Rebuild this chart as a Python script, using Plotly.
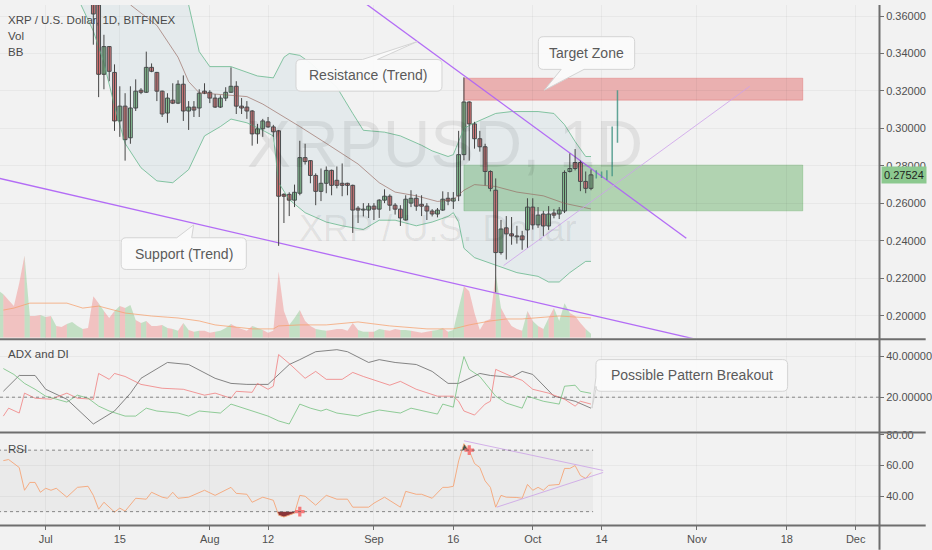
import numpy as np
import pandas as pd
import plotly.graph_objects as go

BASE = pd.Timestamp("2019-07-01")


def to_dt(d):
    return BASE + pd.Timedelta(days=float(d))


# ---------------- DATA (XRP/USD daily, Bitfinex; day index = days since 2019-07-01) ----------------
candle_days = list(range(9, 104))
opens = [0.3720, 0.3660, 0.3289, 0.3437, 0.3299, 0.3040, 0.3119, 0.2950, 0.3109, 0.3204,
         0.3193, 0.3326, 0.3299, 0.3199, 0.3082, 0.3151, 0.3135, 0.3236, 0.3093, 0.3114,
         0.3109, 0.3199, 0.3193, 0.3162, 0.3114, 0.3162, 0.3193, 0.3225, 0.3119, 0.3114,
         0.3093, 0.2971, 0.2998, 0.3035, 0.3008, 0.2987, 0.2648, 0.2648, 0.2617, 0.2654,
         0.2844, 0.2828, 0.2749, 0.2664, 0.2707, 0.2776, 0.2723, 0.2707, 0.2707, 0.2696,
         0.2574, 0.2564, 0.2564, 0.2585, 0.2569, 0.2617, 0.2638, 0.2590, 0.2569, 0.2511,
         0.2601, 0.2627, 0.2595, 0.2585, 0.2559, 0.2543, 0.2564, 0.2627, 0.2612, 0.2640,
         0.2860, 0.3141, 0.3024, 0.2945, 0.2902, 0.2770, 0.2670, 0.2337, 0.2469, 0.2437,
         0.2426, 0.2426, 0.2458, 0.2580, 0.2485, 0.2543, 0.2479, 0.2548, 0.2543, 0.2559,
         0.2770, 0.2818, 0.2818, 0.2717, 0.2680]
highs = [0.3780, 0.3700, 0.3500, 0.3440, 0.3342, 0.3225, 0.3188, 0.3225, 0.3262, 0.3215,
         0.3410, 0.3347, 0.3302, 0.3202, 0.3188, 0.3241, 0.3257, 0.3283, 0.3146, 0.3146,
         0.3209, 0.3241, 0.3204, 0.3183, 0.3177, 0.3220, 0.3326, 0.3252, 0.3162, 0.3146,
         0.3098, 0.3024, 0.3051, 0.3061, 0.3019, 0.2992, 0.2654, 0.2659, 0.2700, 0.2934,
         0.2918, 0.2830, 0.2760, 0.2786, 0.2797, 0.2780, 0.2797, 0.2813, 0.2710, 0.2700,
         0.2585, 0.2601, 0.2601, 0.2601, 0.2622, 0.2675, 0.2648, 0.2601, 0.2590, 0.2643,
         0.2670, 0.2648, 0.2643, 0.2601, 0.2569, 0.2575, 0.2664, 0.2660, 0.2660, 0.2987,
         0.3273, 0.3145, 0.3035, 0.2987, 0.2918, 0.2776, 0.2733, 0.2511, 0.2532, 0.2527,
         0.2480, 0.2453, 0.2627, 0.2627, 0.2580, 0.2560, 0.2585, 0.2570, 0.2580, 0.2776,
         0.2866, 0.2890, 0.2828, 0.2770, 0.2781]
lows = [0.3447, 0.3167, 0.3209, 0.3252, 0.2987, 0.2955, 0.2828, 0.2918, 0.3093, 0.3183,
        0.3190, 0.3300, 0.3146, 0.3061, 0.3030, 0.3130, 0.3130, 0.3040, 0.2992, 0.3061,
        0.3061, 0.3183, 0.3135, 0.3109, 0.3109, 0.3146, 0.3190, 0.3077, 0.3077, 0.3051,
        0.2908, 0.2918, 0.2955, 0.3003, 0.2955, 0.2373, 0.2495, 0.2532, 0.2580, 0.2643,
        0.2807, 0.2707, 0.2590, 0.2612, 0.2654, 0.2643, 0.2680, 0.2638, 0.2643, 0.2442,
        0.2495, 0.2530, 0.2522, 0.2511, 0.2522, 0.2601, 0.2560, 0.2540, 0.2479, 0.2508,
        0.2580, 0.2560, 0.2532, 0.2511, 0.2530, 0.2525, 0.2559, 0.2590, 0.2570, 0.2612,
        0.2830, 0.2828, 0.2892, 0.2876, 0.2696, 0.2664, 0.2125, 0.2326, 0.2300, 0.2379,
        0.2385, 0.2352, 0.2363, 0.2460, 0.2469, 0.2426, 0.2458, 0.2520, 0.2516, 0.2548,
        0.2765, 0.2776, 0.2665, 0.2654, 0.2670]
closes = [0.3611, 0.3289, 0.3437, 0.3305, 0.3040, 0.3119, 0.2940, 0.3109, 0.3199, 0.3193,
          0.3326, 0.3305, 0.3199, 0.3077, 0.3162, 0.3135, 0.3236, 0.3093, 0.3114, 0.3098,
          0.3188, 0.3188, 0.3162, 0.3114, 0.3162, 0.3193, 0.3225, 0.3119, 0.3109, 0.3093,
          0.2971, 0.2998, 0.3040, 0.3008, 0.2982, 0.2638, 0.2638, 0.2617, 0.2659, 0.2844,
          0.2823, 0.2749, 0.2664, 0.2707, 0.2776, 0.2696, 0.2696, 0.2696, 0.2696, 0.2564,
          0.2564, 0.2569, 0.2585, 0.2569, 0.2617, 0.2638, 0.2590, 0.2569, 0.2522, 0.2622,
          0.2627, 0.2585, 0.2585, 0.2559, 0.2543, 0.2564, 0.2622, 0.2612, 0.2627, 0.2860,
          0.3141, 0.3024, 0.2945, 0.2902, 0.2770, 0.2680, 0.2337, 0.2463, 0.2437, 0.2426,
          0.2421, 0.2405, 0.2580, 0.2485, 0.2537, 0.2479, 0.2543, 0.2537, 0.2564, 0.2765,
          0.2786, 0.2786, 0.2717, 0.2680, 0.2752]
last_price = 0.27524

# projected bars drawn after the last candle
proj_days = [104, 105, 106, 107, 108]
proj_low = [0.2733, 0.2735, 0.2725, 0.2745, 0.2924]
proj_high = [0.2776, 0.2770, 0.2776, 0.3010, 0.3204]

# volume (days -9 .. 103), relative units
vol_days = list(range(-9, 104))
volume = [48, 44, 38, 32, 55, 83, 22, 22, 23,
          21, 22, 12, 11, 14, 16, 12, 9, 10,
          42, 35, 27, 20, 27, 32, 30, 33, 18, 15, 17,
          12, 12, 13, 10, 9, 7, 15, 8, 6, 7,
          7, 5, 6, 7, 10, 14, 11, 9, 7, 12,
          10, 8, 5, 7, 67, 27, 13, 20, 28, 17,
          12, 9, 8, 7, 8, 9, 9, 7, 15, 8,
          6, 6, 6, 9, 8, 7, 9, 8, 8, 7,
          6, 5, 6, 7, 8, 10, 6, 8, 30, 52,
          47, 25, 8, 17, 19, 65, 30, 20, 12, 9,
          7, 27, 17, 12, 9, 20, 30, 17, 35, 25,
          22, 15, 9, 4]
pre_up = [1, 1, 0, 0, 0, 0, 1, 0, 0, 1, 0, 1, 0, 0, 1, 1, 1, 0]  # days -9..8 direction
vma_days = [-8, -6, -3, 4, 7, 10, 15, 20, 25, 29, 32, 35, 39, 43, 44, 48, 53, 59, 65, 72, 77, 80, 84, 87, 90, 97, 101, 103]
vma_vals = [28, 30, 35, 35, 30, 32, 25, 22, 20, 17, 13, 11, 9, 9, 12, 13, 13, 16, 12, 9, 9, 13, 17, 19, 19, 22, 21, 20]

# Bollinger Bands
bb_up_days = [3, 15, 21, 27, 29, 31, 35, 40, 43, 45, 46, 48, 50, 55, 58, 60, 64, 67, 71, 73, 76, 77, 79, 81, 85, 88, 93, 96, 98, 100, 102, 103]
bb_up_vals = [0.440, 0.410, 0.387, 0.366, 0.341, 0.333, 0.333, 0.328, 0.327, 0.338, 0.340, 0.339, 0.335, 0.322, 0.308,
              0.299, 0.298, 0.296, 0.291, 0.288, 0.285, 0.286, 0.300, 0.303, 0.308, 0.309, 0.309, 0.308, 0.302, 0.293, 0.285, 0.285]
bb_lo_days = [3, 6, 9, 11, 13, 15, 18, 21, 24, 27, 30, 33, 35, 38, 41, 43, 44, 46, 49, 53, 56, 60, 63, 66, 70, 73, 76, 77, 78, 79, 81, 85, 89, 93, 95, 97, 99, 102, 103]
bb_lo_vals = [0.392, 0.370, 0.352, 0.335, 0.312, 0.292, 0.279, 0.272, 0.271, 0.278, 0.296, 0.301, 0.305, 0.303, 0.299,
              0.296, 0.271, 0.262, 0.255, 0.250, 0.248, 0.246, 0.251, 0.251, 0.248, 0.250, 0.253, 0.255, 0.250, 0.236,
              0.231, 0.227, 0.223, 0.221, 0.218, 0.218, 0.223, 0.229, 0.229]
bb_mid_days = [8, 12, 16, 21, 25, 27, 29, 34, 38, 41, 44, 48, 53, 59, 63, 66, 70, 74, 77, 79, 81, 85, 89, 94, 98, 103]
bb_mid_vals = [0.395, 0.382, 0.366, 0.355, 0.338, 0.325, 0.319, 0.318, 0.317, 0.313, 0.308, 0.301, 0.292, 0.281, 0.271,
               0.266, 0.264, 0.261, 0.262, 0.267, 0.270, 0.269, 0.266, 0.264, 0.260, 0.257]

# ADX and DI
adx_days = [-8, -5, -2, 0, 4, 9, 13, 16, 18, 23, 27, 32, 35, 38, 42, 43, 46, 48, 51, 55, 57, 61, 63, 66, 70, 73, 76, 78, 80, 82, 84, 88, 90, 92, 96, 100, 103]
adx_vals = [22.9, 30.7, 30.7, 23.9, 19.0, 6.8, 13.2, 21.9, 29.3, 37.1, 36.1, 29.3, 26.8, 26.3, 26.3, 28.8, 36.1, 38.5, 42.4,
            43.4, 42.4, 37.1, 38.5, 37.1, 36.1, 32.7, 26.8, 26.8, 29.3, 31.7, 30.7, 29.8, 32.7, 31.2, 20.5, 18.0, 14.6]
mdi_days = [-8, -7, -5, -4, -2, 1, 4, 6, 9, 10, 12, 13, 15, 18, 22, 26, 30, 32, 35, 36, 39, 40, 42, 43, 44, 46, 49, 51, 53, 56,
            58, 60, 65, 67, 70, 74, 77, 78, 79, 81, 83, 84, 85, 88, 90, 92, 95, 98, 100, 101, 103]
mdi_vals = [10.7, 14.6, 12.2, 22.0, 19.5, 19.0, 22.0, 19.5, 19.0, 31.7, 28.8, 31.7, 30.2, 26.3, 24.4, 23.9, 21.0, 22.0, 19.5,
            22.9, 22.4, 26.8, 23.9, 25.4, 41.0, 36.6, 29.3, 32.7, 28.8, 28.8, 32.2, 30.2, 25.9, 27.8, 23.9, 20.5, 20.5, 18.0,
            13.2, 11.2, 16.6, 18.0, 33.7, 30.2, 28.3, 23.9, 22.0, 19.0, 15.6, 18.0, 16.6]
pdi_days = [-8, -6, -4, -3, -2, 0, 4, 6, 8, 10, 12, 15, 17, 19, 21, 25, 27, 29, 33, 35, 39, 42, 44, 46, 48, 50, 52, 53, 55, 59,
            60, 63, 67, 69, 74, 75, 77, 78, 79, 80, 82, 85, 87, 90, 91, 94, 97, 98, 100, 101, 103]
pdi_vals = [34.1, 31.2, 26.8, 25.4, 23.9, 20.5, 17.6, 21.0, 19.5, 15.6, 13.2, 10.7, 10.7, 14.6, 13.2, 12.2, 10.7, 13.2, 12.2,
            16.6, 13.2, 10.7, 8.3, 6.8, 16.6, 14.6, 13.2, 14.1, 12.2, 10.7, 11.7, 13.7, 12.2, 14.6, 11.7, 16.6, 15.1, 28.8,
            40.0, 33.7, 30.2, 20.5, 17.1, 14.6, 20.5, 18.0, 16.6, 25.4, 25.9, 22.9, 21.9]

# RSI
rsi_days = [-8, -7, -5, -4, -3, -2, -1, 0, 1, 2, 4, 6, 8, 9, 10, 11, 13, 14, 15, 17, 19, 20, 22, 23, 24, 25, 27, 30, 32, 35,
            36, 38, 39, 41, 43, 44, 45, 47, 48, 49, 51, 53, 55, 57, 58, 61, 62, 64, 67, 68, 70, 71, 73, 75, 76, 77, 78, 79,
            80, 81, 82, 83, 84, 85, 86, 87, 89, 90, 91, 92, 93, 94, 95, 97, 98, 99, 100, 101, 102, 103]
rsi_vals = [63.2, 63.9, 58.7, 43.9, 49.0, 49.0, 42.6, 45.2, 43.9, 45.2, 39.4, 45.8, 46.5, 40.6, 31.6, 36.1, 29.7, 32.3, 30.3,
            38.7, 38.1, 42.6, 39.4, 38.7, 42.6, 38.7, 39.4, 43.9, 40.6, 45.8, 41.9, 41.3, 36.1, 39.4, 37.4, 27.7, 26.5, 29.0,
            40.6, 40.0, 34.2, 40.6, 38.1, 38.1, 32.9, 32.9, 35.5, 39.4, 32.9, 43.2, 41.3, 41.3, 38.7, 45.8, 45.8, 46.5, 63.0,
            74.2, 69.7, 61.3, 58.7, 50.0, 45.8, 32.9, 40.6, 39.4, 39.2, 38.7, 47.7, 43.9, 45.8, 43.9, 47.1, 47.7, 58.1, 58.1,
            60.0, 53.5, 51.6, 55.5]
rsi_mark_days = [48, 80]
rsi_mark_vals = [30.0, 70.0]

# drawings (trend lines / zones), in day index and price
res_line_days, res_line_vals = [55, 121], [0.3779, 0.2413]
sup_line_days, sup_line_vals = [-9, 123], [0.2735, 0.1873]
rise_line_days, rise_line_vals = [86.5, 133], [0.2268, 0.3225]
target_zone = dict(d0=79, d1=143, p0=0.3151, p1=0.3268)
entry_zone = dict(d0=79, d1=143, p0=0.2560, p1=0.2804)
rsi_tri_up_days, rsi_tri_up_vals = [79, 105.3], [76.1, 56.8]
rsi_tri_lo_days, rsi_tri_lo_vals = [85.2, 105.3], [32.9, 55.5]

tick_days = [0, 14, 31, 42, 62, 77, 92, 105, 123, 140, 153]
tick_text = ["Jul", "15", "Aug", "12", "Sep", "16", "Oct", "14", "Nov", "18", "Dec"]
price_ticks = [0.20, 0.22, 0.24, 0.26, 0.28, 0.30, 0.32, 0.34, 0.36]

# ---------------- STYLE ----------------
BG = "#f2f2f2"
GRID = "rgba(0,0,0,0.04)"
UP = "#8fcf96"
DOWN = "#ea7a7a"
EDGE = "#454545"
FONT = "Liberation Sans"
W_PLOT, H_PLOT = 885.0, 525.0


def PXf(x):
    return x / W_PLOT


def PYf(y):
    return 1 - y / H_PLOT


fig = go.Figure()

# ---- volume (base axis y) ----
vol_dir = pre_up + [1 if c >= o else 0 for o, c in zip(opens, closes)]
seg = {0: ([], []), 1: ([], [])}
for i in range(len(vol_days) - 1):
    k = vol_dir[i + 1]
    xs, ys = seg[k]
    a, b = to_dt(vol_days[i]), to_dt(vol_days[i + 1])
    xs += [a, b, b, a, None]
    ys += [volume[i], volume[i + 1], 0, 0, None]
for k, col in ((1, "rgba(76,175,80,0.28)"), (0, "rgba(239,83,80,0.30)")):
    fig.add_trace(go.Scatter(x=seg[k][0], y=seg[k][1], mode="lines", fill="toself", fillcolor=col,
                             line=dict(width=0), yaxis="y", hoverinfo="skip"))
fig.add_trace(go.Scatter(x=[to_dt(d) for d in vma_days], y=vma_vals, mode="lines",
                         line=dict(color="rgba(245,160,110,0.75)", width=1), yaxis="y", hoverinfo="skip"))

# ---- Bollinger bands (price axis y4) ----
poly_x = [to_dt(d) for d in bb_up_days] + [to_dt(d) for d in bb_lo_days[::-1]]
poly_y = bb_up_vals + bb_lo_vals[::-1]
fig.add_trace(go.Scatter(x=poly_x, y=poly_y, mode="lines", fill="toself", fillcolor="rgba(110,170,185,0.10)",
                         line=dict(width=0), yaxis="y4", hoverinfo="skip"))
for dd, vv, col in ((bb_up_days, bb_up_vals, "rgba(95,180,135,0.75)"),
                    (bb_lo_days, bb_lo_vals, "rgba(95,180,135,0.75)"),
                    (bb_mid_days, bb_mid_vals, "rgba(150,105,95,0.65)")):
    fig.add_trace(go.Scatter(x=[to_dt(d) for d in dd], y=vv, mode="lines", line=dict(color=col, width=1),
                             yaxis="y4", hoverinfo="skip"))

# ---- trend lines ----
fig.add_trace(go.Scatter(x=[to_dt(d) for d in res_line_days], y=res_line_vals, mode="lines",
                         line=dict(color="rgba(175,100,245,0.95)", width=1.3), yaxis="y4", hoverinfo="skip"))
fig.add_trace(go.Scatter(x=[to_dt(d) for d in sup_line_days], y=sup_line_vals, mode="lines",
                         line=dict(color="rgba(175,100,245,0.95)", width=1.3), yaxis="y4", hoverinfo="skip"))
fig.add_trace(go.Scatter(x=[to_dt(d) for d in rise_line_days], y=rise_line_vals, mode="lines",
                         line=dict(color="rgba(205,160,235,0.8)", width=1), yaxis="y4", hoverinfo="skip"))

# ---- candles: wicks then bodies ----
wx, wy = [], []
for d, h, l in zip(candle_days, highs, lows):
    t = to_dt(d)
    wx += [t, t, None]
    wy += [l, h, None]
fig.add_trace(go.Scatter(x=wx, y=wy, mode="lines", line=dict(color=EDGE, width=1), yaxis="y4", hoverinfo="skip"))
for is_up, col in ((True, UP), (False, DOWN)):
    xs, base, hgt = [], [], []
    for d, o, c in zip(candle_days, opens, closes):
        if (c >= o) == is_up:
            xs.append(to_dt(d))
            base.append(min(o, c))
            hgt.append(max(abs(c - o), 0.0004))
    fig.add_trace(go.Bar(x=xs, y=hgt, base=base, width=0.72 * 86400000, yaxis="y4",
                         marker=dict(color=col, line=dict(color=EDGE, width=1)), hoverinfo="skip"))

# projection bars
px_, py_ = [], []
for d, l, h in zip(proj_days, proj_low, proj_high):
    t = to_dt(d)
    px_ += [t, t, None]
    py_ += [l, h, None]
fig.add_trace(go.Scatter(x=px_, y=py_, mode="lines", line=dict(color="rgba(70,150,135,0.85)", width=1.5),
                         yaxis="y4", hoverinfo="skip"))

# ---- ADX pane ----
for dd, vv, col in ((adx_days, adx_vals, "rgba(120,120,120,0.9)"),
                    (mdi_days, mdi_vals, "rgba(240,120,120,0.75)"),
                    (pdi_days, pdi_vals, "rgba(110,190,120,0.75)")):
    fig.add_trace(go.Scatter(x=[to_dt(d) for d in dd], y=vv, mode="lines", line=dict(color=col, width=1),
                             yaxis="y2", hoverinfo="skip"))


# ---- RSI pane ----
def region_polys(days, vals, level, below):
    out, cur = [], None
    inside = (lambda v: v < level) if below else (lambda v: v > level)
    for i in range(len(days)):
        d, v = days[i], vals[i]
        if inside(v):
            if cur is None:
                if i > 0:
                    dp, vp = days[i - 1], vals[i - 1]
                    t = (level - vp) / (v - vp)
                    cur = [[dp + t * (d - dp)], [level]]
                else:
                    cur = [[d], [level]]
            cur[0].append(d)
            cur[1].append(v)
        elif cur is not None:
            dp, vp = days[i - 1], vals[i - 1]
            t = (level - vp) / (v - vp)
            cur[0].append(dp + t * (d - dp))
            cur[1].append(level)
            out.append(cur)
            cur = None
    return out


for xs, ys in region_polys(rsi_days, rsi_vals, 30, True):
    fig.add_trace(go.Scatter(x=[to_dt(d) for d in xs], y=ys, mode="lines", fill="toself",
                             fillcolor="rgba(120,20,25,0.85)", line=dict(width=0), yaxis="y3", hoverinfo="skip"))
for xs, ys in region_polys(rsi_days, rsi_vals, 70, False):
    fig.add_trace(go.Scatter(x=[to_dt(d) for d in xs], y=ys, mode="lines", fill="toself",
                             fillcolor="rgba(30,55,45,0.85)", line=dict(width=0), yaxis="y3", hoverinfo="skip"))
fig.add_trace(go.Scatter(x=[to_dt(d) for d in rsi_days], y=rsi_vals, mode="lines",
                         line=dict(color="rgba(245,165,120,0.9)", width=1), yaxis="y3", hoverinfo="skip"))
for dd, vv in ((rsi_tri_up_days, rsi_tri_up_vals), (rsi_tri_lo_days, rsi_tri_lo_vals)):
    fig.add_trace(go.Scatter(x=[to_dt(d) for d in dd], y=vv, mode="lines",
                             line=dict(color="rgba(205,165,230,0.85)", width=1), yaxis="y3", hoverinfo="skip"))
fig.add_trace(go.Scatter(x=[to_dt(d) for d in rsi_mark_days], y=rsi_mark_vals, mode="markers",
                         marker=dict(symbol="cross", size=8, color="rgba(245,110,110,0.9)"),
                         yaxis="y3", hoverinfo="skip"))

# ---------------- SHAPES ----------------
shapes = []
for z, col in ((target_zone, "rgba(225,95,95,0.45)"), (entry_zone, "rgba(80,165,80,0.40)")):
    shapes.append(dict(type="rect", xref="x", yref="y4", x0=to_dt(z["d0"]), x1=to_dt(z["d1"]),
                       y0=z["p0"], y1=z["p1"], fillcolor=col, line=dict(width=0.8, color=col), layer="below"))
rsi_x0 = to_dt(-9)
rsi_x1 = to_dt(candle_days[-1] + 0.4)
shapes.append(dict(type="rect", xref="x", yref="y3", x0=rsi_x0, x1=rsi_x1, y0=30, y1=70,
                   fillcolor="rgba(0,0,0,0.03)", line=dict(width=0), layer="below"))
for lv in (30, 70):
    shapes.append(dict(type="line", xref="x", yref="y3", x0=rsi_x0, x1=rsi_x1, y0=lv, y1=lv,
                       line=dict(color="rgba(90,90,90,0.7)", width=1, dash="dot")))
shapes.append(dict(type="line", xref="paper", yref="y2", x0=0, x1=1, y0=20, y1=20,
                   line=dict(color="rgba(90,90,90,0.7)", width=1, dash="dot")))
# pane separators, axis borders
for yy in (337.5, 431.5, 525.5):
    shapes.append(dict(type="line", xref="paper", yref="paper", x0=0, x1=PXf(932), y0=PYf(yy), y1=PYf(yy),
                       line=dict(color="#6e6e6e", width=2)))
shapes.append(dict(type="line", xref="paper", yref="paper", x0=PXf(885.5), x1=PXf(885.5), y0=PYf(550), y1=1,
                   line=dict(color="#6e6e6e", width=2)))


def P(x, y):
    return f"{x / W_PLOT:.5f},{1 - y / H_PLOT:.5f}"


def callout(x0, y0, x1, y1, edge, b1, b2, apex, r=5):
    ax, ay = apex
    s = f"M {P(x0 + r, y0)} "
    if edge == "top":
        s += f"L {P(b1, y0)} L {P(ax, ay)} L {P(b2, y0)} "
    s += f"L {P(x1 - r, y0)} Q {P(x1, y0)} {P(x1, y0 + r)} "
    s += f"L {P(x1, y1 - r)} Q {P(x1, y1)} {P(x1 - r, y1)} "
    if edge == "bottom":
        s += f"L {P(b2, y1)} L {P(ax, ay)} L {P(b1, y1)} "
    s += f"L {P(x0 + r, y1)} Q {P(x0, y1)} {P(x0, y1 - r)} "
    if edge == "left":
        s += f"L {P(x0, b2)} L {P(ax, ay)} L {P(x0, b1)} "
    s += f"L {P(x0, y0 + r)} Q {P(x0, y0)} {P(x0 + r, y0)} Z"
    return s


callouts = [
    ("Resistance (Trend)", (298, 55, 445, 87), "top", 365, 380, (420, 37)),
    ("Target Zone", (542, 32, 639, 65), "bottom", 565, 588, (548, 86)),
    ("Support (Trend)", (122, 235, 248, 267), "top", 178, 193, (195, 222)),
    ("Possible Pattern Breakout", (600, 358, 793, 390), "left", 376, 388, (596, 407)),
]
annotations = []
for text, (x0, y0, x1, y1), edge, b1, b2, apex in callouts:
    shapes.append(dict(type="path", xref="paper", yref="paper", path=callout(x0, y0, x1, y1, edge, b1, b2, apex),
                       fillcolor="rgba(250,250,250,0.96)", line=dict(color="#d4d4d4", width=1), layer="above"))
    annotations.append(dict(text=text, xref="paper", yref="paper", x=PXf((x0 + x1) / 2), y=PYf((y0 + y1) / 2),
                            showarrow=False, font=dict(family=FONT, size=14, color="#5a5a5a"),
                            xanchor="center", yanchor="middle"))

# watermark
annotations.append(dict(text="XRPUSD, 1D", xref="paper", yref="paper", x=PXf(448), y=PYf(140), showarrow=False,
                        font=dict(family=FONT, size=66, color="rgba(0,0,0,0.07)"), xanchor="center", yanchor="middle"))
annotations.append(dict(text="XRP / U.S. Dollar", xref="paper", yref="paper", x=PXf(440), y=PYf(226),
                        showarrow=False, font=dict(family=FONT, size=36, color="rgba(0,0,0,0.07)"),
                        xanchor="center", yanchor="middle"))
# legends / pane titles
for txt, yy in (("XRP / U.S. Dollar, 1D, BITFINEX", 15), ("Vol", 31), ("BB", 47), ("ADX and DI", 352), ("RSI", 448)):
    annotations.append(dict(text=txt, xref="paper", yref="paper", x=PXf(6), y=PYf(yy), showarrow=False,
                            font=dict(family=FONT, size=11.5, color="#4a4a4a"), xanchor="left", yanchor="middle"))
# last price label
annotations.append(dict(text=f"{last_price:.5f}", xref="paper", yref="y4", x=PXf(887), y=last_price,
                        showarrow=False, xanchor="left", yanchor="middle", bgcolor="#8cc98f",
                        font=dict(family=FONT, size=11, color="#1e1e1e"), borderpad=2))

axis_font = dict(family=FONT, size=11, color="#505050")
fig.update_layout(
    width=932, height=550,
    margin=dict(l=0, r=47, t=0, b=25),
    paper_bgcolor=BG, plot_bgcolor=BG,
    showlegend=False, barmode="overlay", bargap=0,
    font=dict(family=FONT, color="#505050"),
    xaxis=dict(type="date", anchor="y3", range=[to_dt(-8.63), to_dt(157.4)],
               tickvals=[to_dt(d) for d in tick_days], ticktext=tick_text,
               ticks="outside", ticklen=4, tickcolor="#6e6e6e", tickfont=axis_font,
               showgrid=True, gridcolor=GRID, zeroline=False, showline=False, fixedrange=True),
    yaxis=dict(domain=[PYf(336), 1], range=[0, 336], visible=False, fixedrange=True),
    yaxis4=dict(overlaying="y", anchor="x", side="right", range=[0.1882, 0.3659],
                tickvals=price_ticks, ticktext=[f"{v:.5f}" for v in price_ticks],
                ticks="outside", ticklen=4, tickcolor="#6e6e6e", tickfont=axis_font,
                showgrid=True, gridcolor=GRID, zeroline=False, showline=False, fixedrange=True),
    yaxis2=dict(domain=[PYf(430), PYf(340)], anchor="x", side="right", range=[3.4, 47.3],
                tickvals=[20, 40], ticktext=["20.00000", "40.00000"],
                ticks="outside", ticklen=4, tickcolor="#6e6e6e", tickfont=axis_font,
                showgrid=True, gridcolor=GRID, zeroline=False, showline=False, fixedrange=True),
    yaxis3=dict(domain=[0, PYf(433)], anchor="x", side="right", range=[21.3, 80.6],
                tickvals=[40, 60, 80], ticktext=["40.00", "60.00", "80.00"],
                ticks="outside", ticklen=4, tickcolor="#6e6e6e", tickfont=axis_font,
                showgrid=True, gridcolor=GRID, zeroline=False, showline=False, fixedrange=True),
    shapes=shapes,
    annotations=annotations,
)

fig.write_html("out.html", config={"displayModeBar": False, "staticPlot": True})

# remove the default page margin so the 932x550 figure fills the window exactly
with open("out.html", "r", encoding="utf-8") as fh:
    html = fh.read()
html = html.replace("<head>", "<head><style>html,body{margin:0;padding:0;overflow:hidden;background:#f2f2f2}</style>", 1)
with open("out.html", "w", encoding="utf-8") as fh:
    fh.write(html)
